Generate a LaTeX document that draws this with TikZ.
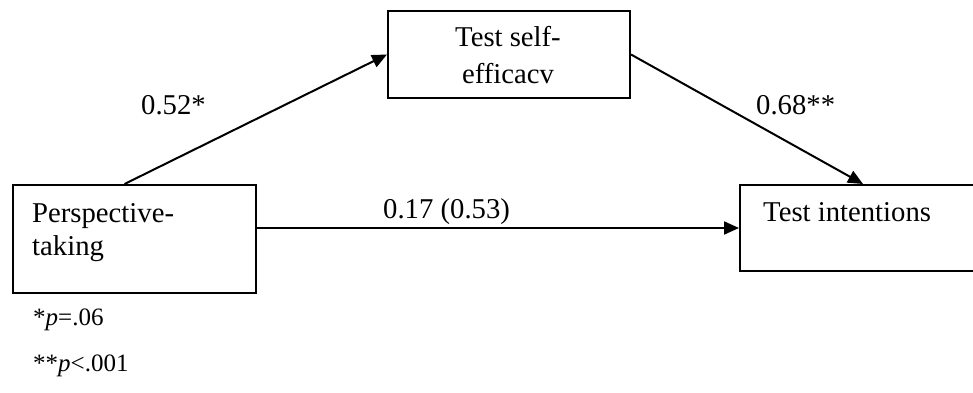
\documentclass[tikz,border=0pt]{standalone}
\usepackage{fontspec}
\setmainfont{Liberation Serif}
\usetikzlibrary{arrows.meta}
\tikzset{
  box/.style={draw, line width=2pt, rectangle, inner sep=0pt},
  txt/.style={anchor=base west, inner sep=0pt, font=\fontsize{28.7}{34}\selectfont},
  ctxt/.style={anchor=base, inner sep=0pt, font=\fontsize{28.7}{34}\selectfont},
  note/.style={anchor=base west, inner sep=0pt, font=\fontsize{25}{30}\selectfont},
  arr/.style={line width=2pt, -{Triangle[length=15pt,width=13pt]}}
}
\begin{document}
\begin{tikzpicture}[x=1pt,y=-1pt]
\useasboundingbox (0,0) rectangle (973,392);
\clip (0,0) rectangle (973,392);
\fill[white] (0,0) rectangle (973,392);
% boxes
\node[box, minimum width=242pt, minimum height=87pt, anchor=north west] (med) at (387,10) {};
\node[box, minimum width=243pt, minimum height=108pt, anchor=north west] (pt) at (12,184) {};
\node[box, minimum width=260pt, minimum height=86pt, anchor=north west] (ti) at (739,184) {};
% box texts
\node[ctxt] (m1) at (508,46) {Test self-};
\node[ctxt] (m2) at (508,83) {efficacv};
\node[txt] (p1) at (32,222) {Perspective-};
\node[txt] (p2) at (32,255) {taking};
\node[txt] (t1) at (763,221) {Test intentions};
% connectors
\draw[arr] ([xshift=-10pt]pt.north) -- (med.west);
\draw[arr] (med.east) -- ([xshift=-7pt]ti.north);
\draw[arr] (pt.east |- ti.west) -- (ti.west);
% path labels
\node[txt] (l1) at (141,114) {0.52*};
\node[txt] (l2) at (756,114) {0.68**};
\node[txt] (l3) at (383,218) {0.17 (0.53)};
% footnotes
\node[note] (f1) at (33,325) {*\textit{p}=.06};
\node[note] (f2) at (33,371) {**\textit{p}<.001};
\end{tikzpicture}
\end{document}
